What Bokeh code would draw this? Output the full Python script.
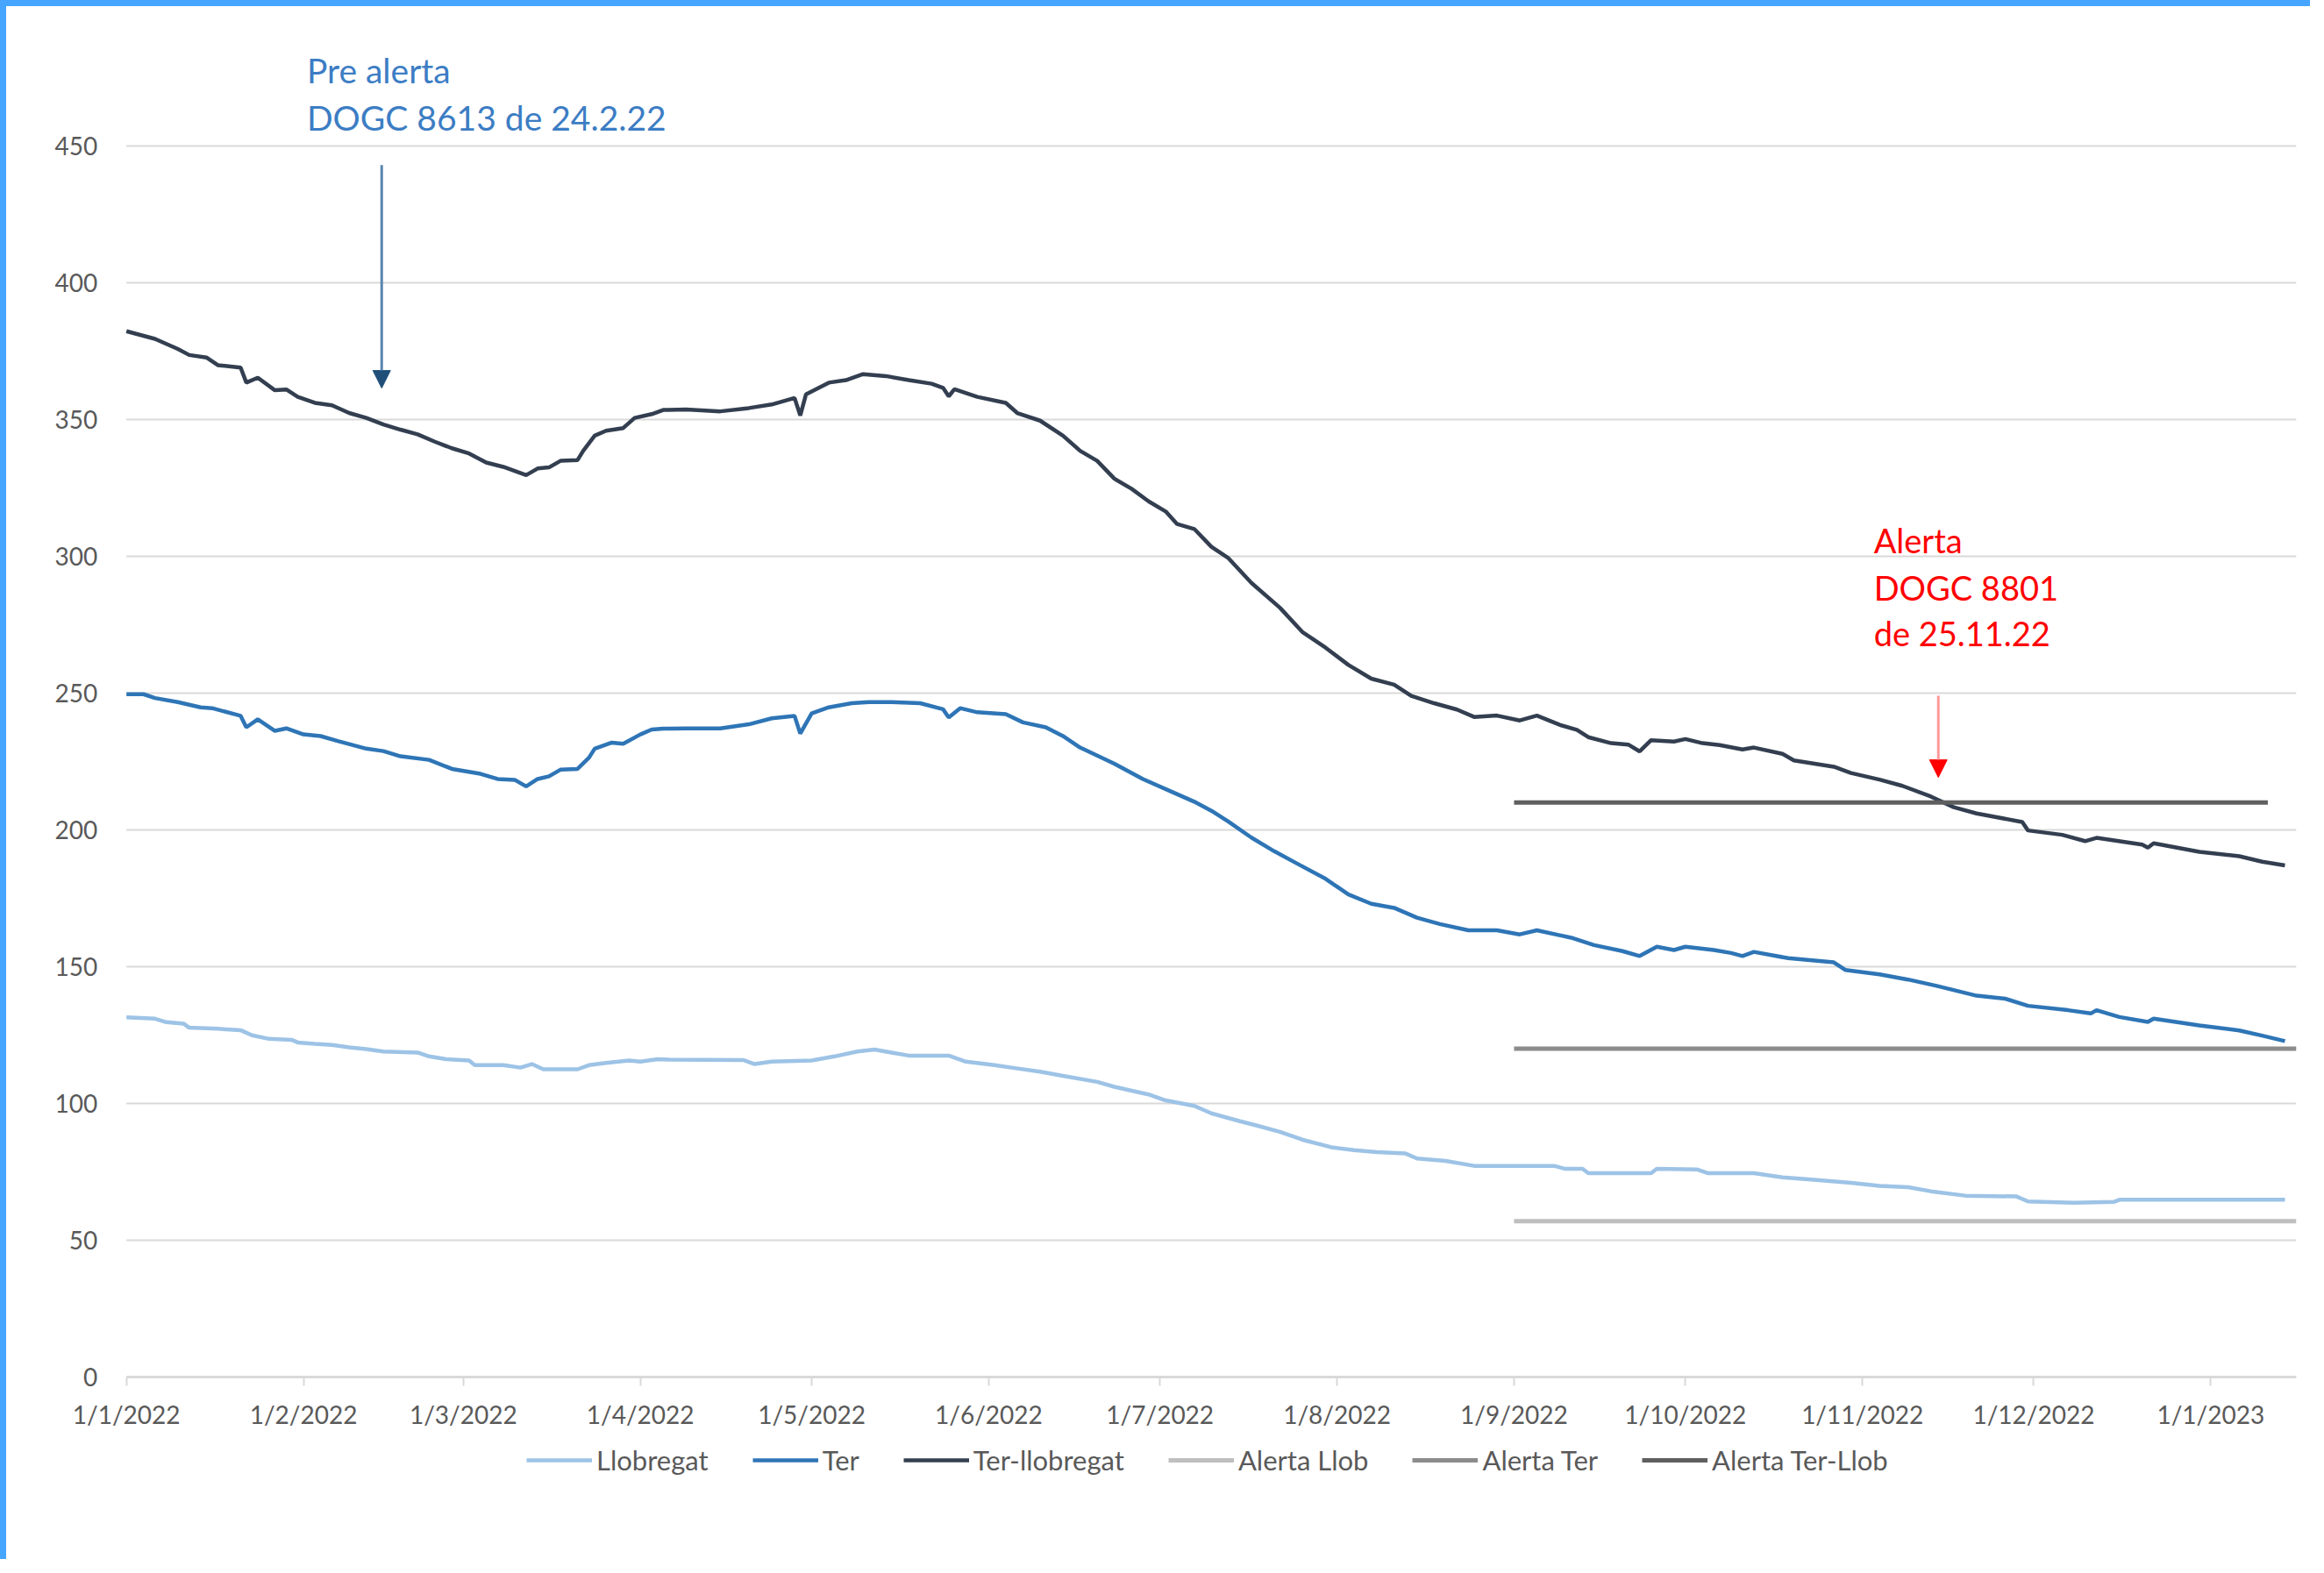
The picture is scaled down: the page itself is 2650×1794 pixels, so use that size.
from bokeh.plotting import figure
from bokeh.models import Range1d, FixedTicker, Legend, LegendItem, Label, Arrow, NormalHead
from bokeh.embed import file_html
from bokeh.resources import INLINE

FONT = "Lato"

# ---------------- data (day offsets from 1/1/2022) ----------------
month_days = [0, 31, 59, 90, 120, 151, 181, 212, 243, 273, 304, 334, 365]
month_labels = ["1/1/2022", "1/2/2022", "1/3/2022", "1/4/2022", "1/5/2022", "1/6/2022",
                "1/7/2022", "1/8/2022", "1/9/2022", "1/10/2022", "1/11/2022", "1/12/2022",
                "1/1/2023"]
y_ticks = [0, 50, 100, 150, 200, 250, 300, 350, 400, 450]

terllob_days = [0, 5, 9, 11, 14, 16, 20, 21, 23, 26, 28, 30, 33, 36, 39, 42, 45, 48, 51, 54,
                57, 60, 63, 66, 70, 72, 74, 76, 79, 80, 82, 84, 87, 89, 92, 94, 98, 104, 109,
                113, 117, 118, 119, 123, 126, 129, 133, 137, 141, 143, 144, 145, 149, 154, 156,
                160, 164, 167, 170, 173, 176, 179, 182, 184, 187, 190, 193, 197, 202, 206, 210,
                214, 218, 222, 225, 229, 233, 236, 240, 244, 247, 251, 254, 256, 260, 263, 265,
                267, 271, 273, 276, 279, 283, 285, 290, 292, 299, 302, 307, 311, 316, 320, 324,
                332, 333, 339, 343, 345, 353, 354, 355, 363, 370, 374, 378]
terllob_vals = [382.3, 379.5, 375.8, 373.6, 372.7, 369.9, 369.0, 363.5, 365.3, 360.7, 361.0,
                358.3, 356.1, 355.2, 352.4, 350.6, 348.2, 346.3, 344.6, 341.9, 339.5, 337.6,
                334.3, 332.7, 329.7, 332.1, 332.5, 334.9, 335.2, 338.6, 344.1, 345.9, 346.9,
                350.6, 352.0, 353.5, 353.7, 353.0, 354.2, 355.5, 357.9, 351.5, 359.2, 363.5,
                364.4, 366.6, 365.9, 364.4, 363.1, 361.6, 358.5, 361.1, 358.3, 356.1, 352.4,
                349.6, 344.1, 338.6, 334.9, 328.4, 324.7, 320.1, 316.4, 311.8, 310.0, 303.5,
                299.3, 290.3, 281.2, 272.2, 266.6, 260.3, 255.3, 253.1, 249.0, 246.3, 244.0,
                241.3, 241.8, 240.0, 241.8, 238.4, 236.6, 233.9, 231.7, 231.2, 228.7, 232.8,
                232.3, 233.2, 231.7, 231.0, 229.4, 230.1, 227.8, 225.4, 223.1, 220.8, 218.4,
                216.1, 212.2, 208.3, 206.0, 202.9, 199.8, 198.2, 195.9, 197.1, 194.6, 193.5,
                195.1, 192.0, 190.4, 188.4, 187.0]

ter_days = [0, 3, 5, 9, 13, 15, 20, 21, 23, 26, 28, 31, 34, 37, 42, 45, 48, 53, 57, 62, 65,
            68, 70, 72, 74, 76, 79, 81, 82, 85, 87, 90, 92, 94, 98, 104, 109, 113, 117, 118,
            120, 123, 127, 130, 134, 139, 143, 144, 146, 149, 154, 157, 161, 164, 167, 173,
            178, 183, 187, 190, 193, 197, 201, 205, 210, 214, 218, 222, 226, 230, 235, 240,
            244, 247, 253, 257, 262, 265, 268, 271, 273, 278, 281, 283, 285, 291, 299, 301,
            307, 312, 317, 324, 329, 333, 340, 344, 345, 349, 354, 355, 363, 370, 374, 378]
ter_vals = [249.6, 249.6, 248.2, 246.7, 244.8, 244.5, 241.7, 237.5, 240.4, 236.2, 237.1, 234.9,
            234.3, 232.5, 229.7, 228.8, 226.9, 225.6, 222.3, 220.5, 218.6, 218.3, 215.9, 218.6,
            219.6, 222.0, 222.3, 226.4, 229.7, 231.9, 231.5, 234.9, 236.7, 237.0, 237.1, 237.1,
            238.6, 240.8, 241.7, 235.2, 242.6, 244.8, 246.3, 246.7, 246.7, 246.3, 244.1, 241.1,
            244.5, 243.0, 242.3, 239.3, 237.5, 234.3, 230.1, 224.2, 218.6, 214.0, 210.3, 207.0,
            203.0, 197.2, 192.2, 187.7, 182.1, 176.4, 173.0, 171.5, 167.9, 165.6, 163.3, 163.3,
            161.8, 163.3, 160.6, 157.9, 155.7, 153.9, 157.3, 156.1, 157.3, 156.1, 155.0, 153.9,
            155.4, 153.1, 151.6, 148.8, 147.2, 145.3, 143.0, 139.4, 138.3, 135.7, 134.1, 132.9,
            134.1, 131.6, 129.8, 131.0, 128.5, 126.7, 124.8, 122.8]

llob_days = [0, 5, 7, 10, 11, 16, 20, 22, 25, 29, 30, 33, 36, 39, 42, 45, 51, 53, 56, 60, 61,
             66, 69, 71, 73, 79, 81, 84, 88, 90, 93, 95, 108, 110, 113, 120, 124, 128, 131,
             134, 137, 144, 147, 152, 155, 160, 164, 170, 173, 179, 182, 187, 190, 195, 198,
             202, 206, 211, 215, 219, 224, 226, 231, 236, 250, 252, 255, 256, 267, 268, 275,
             277, 285, 290, 295, 302, 307, 312, 316, 322, 331, 333, 341, 348, 349, 378]
llob_vals = [131.5, 131.0, 129.7, 129.2, 127.7, 127.3, 126.8, 124.9, 123.6, 123.2, 122.3,
             121.8, 121.4, 120.5, 119.9, 119.0, 118.6, 117.2, 116.2, 115.7, 114.0, 114.0,
             113.1, 114.4, 112.5, 112.5, 114.0, 114.8, 115.7, 115.3, 116.2, 116.0, 115.9,
             114.4, 115.3, 115.7, 117.2, 119.0, 119.7, 118.6, 117.5, 117.5, 115.3, 114.0,
             113.1, 111.6, 110.1, 107.9, 106.1, 103.3, 101.1, 99.1, 96.4, 93.5, 91.9, 89.6,
             86.7, 84.0, 82.9, 82.2, 81.7, 79.9, 79.0, 77.2, 77.2, 76.1, 76.1, 74.5, 74.5,
             76.1, 75.9, 74.5, 74.5, 73.0, 72.2, 71.0, 69.9, 69.4, 67.9, 66.3, 66.0, 64.2,
             63.7, 64.0, 64.8, 64.8]

alert_llob_days = [243, 380]
alert_llob_vals = [57, 57]
alert_ter_days = [243, 380]
alert_ter_vals = [120, 120]
alert_terllob_days = [243, 375]
alert_terllob_vals = [210, 210]

series_names = ["Llobregat", "Ter", "Ter-llobregat", "Alerta Llob", "Alerta Ter", "Alerta Ter-Llob"]

X_START, X_END = 0, 380

# ---------------- figure ----------------
p = figure(width=2634, height=1778, output_backend="svg", toolbar_location=None,
           x_range=Range1d(-15, X_END), y_range=Range1d(-43.27, 500.0),
           min_border_left=39, min_border_right=23, min_border_top=3, min_border_bottom=80)
p.outline_line_color = None
p.background_fill_color = "white"
p.border_fill_color = "white"
p.styles = {"border-top": "7px solid #45A5FF", "border-left": "7px solid #45A5FF",
            "box-sizing": "border-box"}

p.xgrid.visible = False
p.ygrid.visible = False
# horizontal gridlines limited to the data span
p.segment(x0=X_START, x1=X_END, y0=y_ticks, y1=y_ticks, line_color="#D9D9D9", line_width=2)

p.xaxis.fixed_location = 0
p.xaxis.bounds = (X_START, X_END)
p.xaxis.ticker = FixedTicker(ticks=month_days)
p.xaxis.major_label_overrides = {d: l for d, l in zip(month_days, month_labels)}
p.xaxis.axis_line_color = "#D9D9D9"
p.xaxis.axis_line_width = 3
p.xaxis.major_tick_line_color = "#D9D9D9"
p.xaxis.major_tick_line_width = 2
p.xaxis.major_tick_out = 10
p.xaxis.major_tick_in = 0
p.xaxis.minor_tick_line_color = None
p.xaxis.major_label_standoff = 16
p.xaxis.major_label_text_font = FONT
p.xaxis.major_label_text_font_size = "28px"
p.xaxis.major_label_text_color = "#595959"

p.yaxis.fixed_location = 0
p.yaxis.ticker = FixedTicker(ticks=y_ticks)
p.yaxis.axis_line_color = None
p.yaxis.major_tick_line_color = None
p.yaxis.minor_tick_line_color = None
p.yaxis.major_label_standoff = 27
p.yaxis.major_label_text_font = FONT
p.yaxis.major_label_text_font_size = "28px"
p.yaxis.major_label_text_color = "#595959"

colors = ["#9DC3E6", "#2E75B6", "#333F50", "#BFBFBF", "#8C8C8C", "#5F5F5F"]

r0 = p.line(llob_days, llob_vals, line_color=colors[0], line_width=4.5)
r1 = p.line(ter_days, ter_vals, line_color=colors[1], line_width=4.5)
r2 = p.line(terllob_days, terllob_vals, line_color=colors[2], line_width=4.5)
r3 = p.line(alert_llob_days, alert_llob_vals, line_color=colors[3], line_width=5)
r4 = p.line(alert_ter_days, alert_ter_vals, line_color=colors[4], line_width=5)
r5 = p.line(alert_terllob_days, alert_terllob_vals, line_color=colors[5], line_width=5)

items = [LegendItem(label=n, renderers=[r]) for n, r in zip(series_names, [r0, r1, r2, r3, r4, r5])]
legend = Legend(items=items, orientation="horizontal", location=(554, 21),
                glyph_width=75, glyph_height=34, label_height=34, label_standoff=5,
                spacing=50, padding=0, margin=0, border_line_color=None,
                background_fill_alpha=0, label_text_font=FONT,
                label_text_font_size="31px", label_text_color="#595959")
p.add_layout(legend, "center")

# annotations
blue_txt = "#3C7DC4"
p.add_layout(Label(x=31.6, y=477.6, text="Pre alerta", text_font=FONT, text_font_size="39px",
                   text_color=blue_txt, text_baseline="middle", text_align="left"))
p.add_layout(Label(x=31.6, y=460.3, text="DOGC 8613 de 24.2.22", text_font=FONT,
                   text_font_size="39px", text_color=blue_txt, text_baseline="middle",
                   text_align="left"))
p.add_layout(Arrow(x_start=44.7, y_start=443, x_end=44.7, y_end=361.5,
                   line_color="#5A84AE", line_width=3,
                   end=NormalHead(size=20, fill_color="#1F4E79", line_color="#1F4E79")))

red = "#FF0000"
for txt, yy in zip(["Alerta", "DOGC 8801", "de 25.11.22"], [305.8, 288.5, 271.8]):
    p.add_layout(Label(x=306, y=yy, text=txt, text_font=FONT, text_font_size="38px",
                       text_color=red, text_baseline="middle", text_align="left"))
p.add_layout(Arrow(x_start=317.3, y_start=249, x_end=317.3, y_end=219.2,
                   line_color="#FF9999", line_width=3,
                   end=NormalHead(size=20, fill_color=red, line_color=red)))

open("out.html", "w").write(file_html(p, INLINE))
